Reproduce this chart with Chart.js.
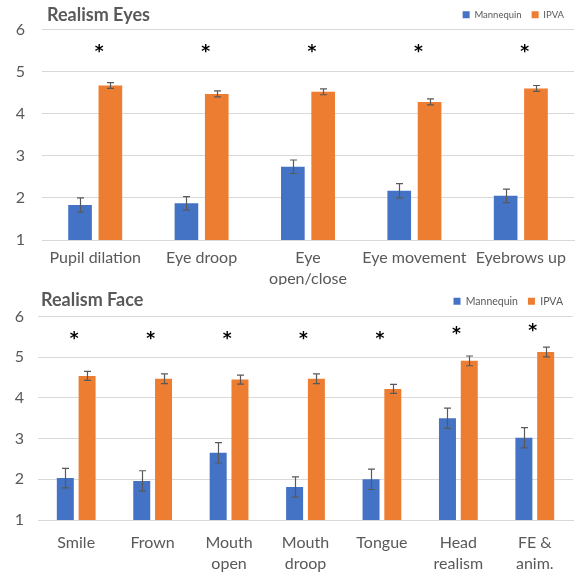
<!DOCTYPE html>
<html>
<head>
<meta charset="utf-8">
<script src="https://cdn.jsdelivr.net/npm/chart.js@4.4.1/dist/chart.umd.min.js"></script>
<style>
  html, body { margin: 0; padding: 0; background: #ffffff; }
  #wrap { width: 576px; height: 575px; position: relative; }
  canvas { display: block; }
</style>
</head>
<body>
<div id="wrap">
  <canvas id="eyes" width="576" height="285"></canvas>
  <canvas id="face" width="576" height="290"></canvas>
</div>
<script>
// ---- Realism of the eyes ----
const eyeCategories = ['Pupil dilation', 'Eye droop', ['Eye', 'open/close'], 'Eye movement', 'Eyebrows up'];
const eyeMannequin    = [1.83, 1.87, 2.74, 2.17, 2.05];
const eyeMannequinErr = [0.17, 0.16, 0.16, 0.17, 0.16];
const eyeIPVA         = [4.67, 4.47, 4.52, 4.28, 4.60];
const eyeIPVAErr      = [0.07, 0.07, 0.07, 0.07, 0.07];
const eyeStarLevel    = [5.52, 5.52, 5.52, 5.52, 5.52];

// ---- Realism of the face ----
const faceCategories = ['Smile', 'Frown', ['Mouth', 'open'], ['Mouth', 'droop'], 'Tongue', ['Head', 'realism'], ['FE &', 'anim.']];
const faceMannequin    = [2.03, 1.96, 2.65, 1.81, 2.00, 3.50, 3.02];
const faceMannequinErr = [0.24, 0.25, 0.25, 0.25, 0.25, 0.25, 0.25];
const faceIPVA         = [4.54, 4.47, 4.45, 4.47, 4.22, 4.91, 5.13];
const faceIPVAErr      = [0.11, 0.12, 0.11, 0.12, 0.11, 0.12, 0.12];
const faceStarLevel    = [5.50, 5.50, 5.50, 5.50, 5.50, 5.62, 5.71];

const yTicks = [1, 2, 3, 4, 5, 6];
const seriesNames = ['Mannequin', 'IPVA'];

const BLUE = '#4472C4';
const ORANGE = '#ED7D31';
const GREY = '#595959';
const GRID = '#d9d9d9';

Chart.defaults.font.family = "Lato, 'Open Sans', sans-serif";
Chart.defaults.color = GREY;

// Draws the mean ± error whiskers on top of every bar.
const errorBars = {
  id: 'errorBars',
  afterDatasetsDraw(chart) {
    const ctx = chart.ctx;
    const y = chart.scales.y;
    ctx.save();
    ctx.strokeStyle = GREY;
    ctx.lineWidth = 1.2;
    chart.data.datasets.forEach((ds, di) => {
      const meta = chart.getDatasetMeta(di);
      meta.data.forEach((bar, i) => {
        const v = ds.data[i], e = ds.errors[i];
        const yTop = y.getPixelForValue(v + e);
        const yBot = y.getPixelForValue(v - e);
        const x = Math.round(bar.x) + 0.5;
        ctx.beginPath();
        ctx.moveTo(x, yTop); ctx.lineTo(x, yBot);
        ctx.moveTo(x - 3.5, yTop); ctx.lineTo(x + 3.5, yTop);
        ctx.moveTo(x - 3.5, yBot); ctx.lineTo(x + 3.5, yBot);
        ctx.stroke();
      });
    });
    ctx.restore();
  }
};

// Significance asterisks above each category.
const stars = {
  id: 'stars',
  afterDatasetsDraw(chart, args, opts) {
    const ctx = chart.ctx;
    const xs = chart.scales.x, ys = chart.scales.y;
    ctx.save();
    ctx.fillStyle = '#000000';
    ctx.font = "bold 17px 'DejaVu Sans', sans-serif";
    ctx.textAlign = 'center';
    ctx.textBaseline = 'middle';
    opts.levels.forEach((lvl, i) => {
      ctx.fillText('*', xs.getPixelForValue(i) + opts.dx, ys.getPixelForValue(lvl) + 3);
    });
    ctx.restore();
  }
};

// Chart heading, drawn on the same line as the legend.
const heading = {
  id: 'heading',
  afterDraw(chart, args, opts) {
    const ctx = chart.ctx;
    ctx.save();
    ctx.fillStyle = GREY;
    ctx.font = "bold 18px Lato, sans-serif";
    ctx.textAlign = 'left';
    ctx.textBaseline = 'middle';
    ctx.fillText(opts.text, opts.x, opts.y);
    ctx.restore();
  }
};

function makeChart(id, p) {
  return new Chart(document.getElementById(id), {
    type: 'bar',
    data: {
      labels: p.labels,
      datasets: [
        { label: seriesNames[0], data: p.mannequin, errors: p.mannequinErr, backgroundColor: BLUE,
          barPercentage: 0.78, categoryPercentage: 0.57 },
        { label: seriesNames[1], data: p.ipva, errors: p.ipvaErr, backgroundColor: ORANGE,
          barPercentage: 0.78, categoryPercentage: 0.57 }
      ]
    },
    options: {
      responsive: false,
      animation: false,
      layout: { padding: { top: p.padTop, right: p.padRight, left: 0, bottom: 0 } },
      plugins: {
        legend: {
          position: 'top',
          align: 'end',
          labels: { boxWidth: 7, boxHeight: 7, padding: 10, color: GREY,
                    font: { size: p.legendSize } }
        },
        tooltip: { enabled: false },
        stars: { levels: p.stars, dx: p.starDx },
        heading: { text: p.title, x: p.titleX, y: p.titleY }
      },
      scales: {
        x: {
          grid: { display: false, drawTicks: false },
          border: { display: true, color: GRID, width: 1 },
          ticks: { color: GREY, padding: p.xPad, maxRotation: 0, autoSkip: false,
                   font: { size: 16, lineHeight: 1.32 } },
          afterFit(scale) { scale.height = p.xHeight; }
        },
        y: {
          min: 1, max: 6,
          afterBuildTicks(scale) { scale.ticks = yTicks.map(v => ({ value: v })); },
          grid: { color: GRID, lineWidth: 1, drawTicks: false },
          border: { display: false },
          ticks: { color: GREY, padding: p.yPad, font: { size: 16 } },
          afterFit(scale) { scale.width = p.yWidth; }
        }
      }
    },
    plugins: [errorBars, stars, heading]
  });
}

makeChart('eyes', {
  labels: eyeCategories, mannequin: eyeMannequin, mannequinErr: eyeMannequinErr,
  ipva: eyeIPVA, ipvaErr: eyeIPVAErr, stars: eyeStarLevel, starDx: 4,
  title: 'Realism Eyes', titleX: 47, titleY: 15,
  padTop: 0, padRight: 2, legendSize: 9.5,
  xPad: 7, xHeight: 45, yPad: 17, yWidth: 42
});

makeChart('face', {
  labels: faceCategories, mannequin: faceMannequin, mannequinErr: faceMannequinErr,
  ipva: faceIPVA, ipvaErr: faceIPVAErr, stars: faceStarLevel, starDx: -2,
  title: 'Realism Face', titleX: 41, titleY: 15,
  padTop: 1, padRight: 3, legendSize: 10.5,
  xPad: 12, xHeight: 55, yPad: 14, yWidth: 38
});
</script>
</body>
</html>
